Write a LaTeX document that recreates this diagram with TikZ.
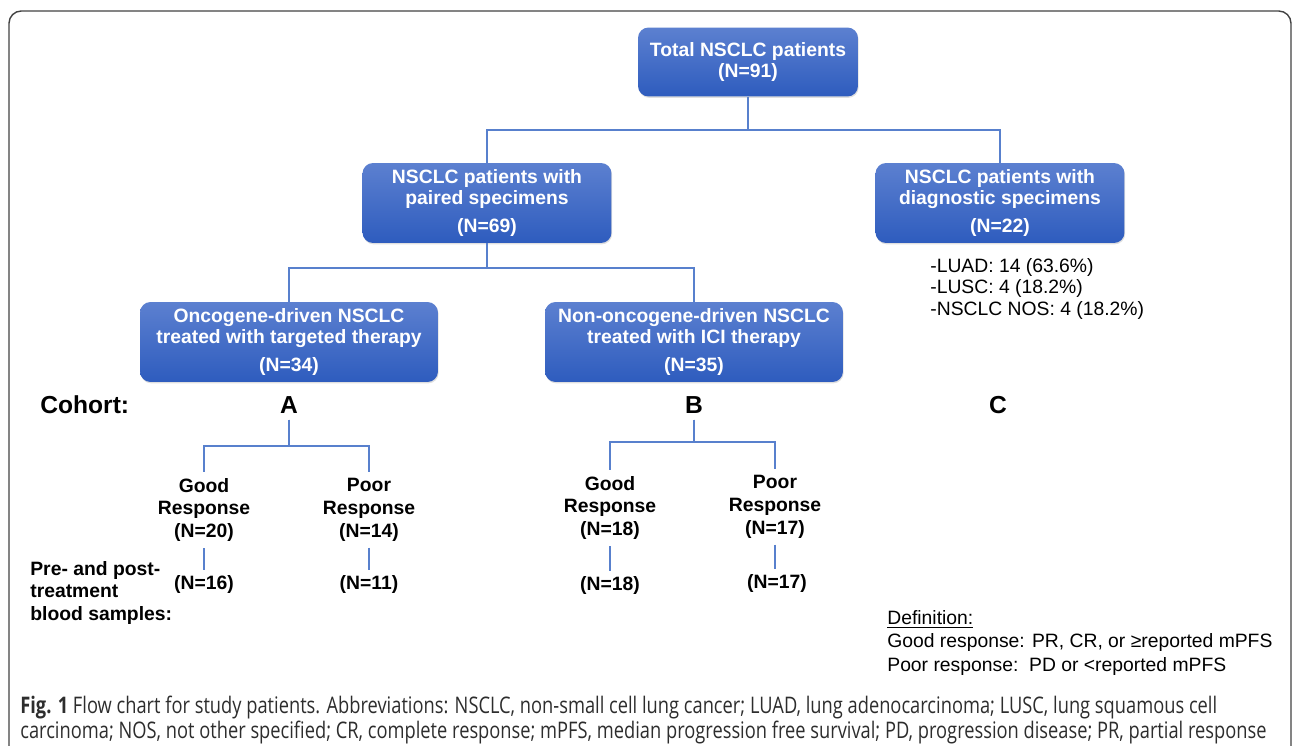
\documentclass[tikz,border=0pt]{standalone}
\usepackage{fontspec}
\setmainfont{Liberation Sans}
\newfontfamily\capfont[FakeStretch=0.8]{Open Sans}
\usetikzlibrary{shadows}
\definecolor{boxtop}{RGB}{92,128,208}
\definecolor{boxbot}{RGB}{46,92,190}
\definecolor{lnblue}{RGB}{88,128,205}
\definecolor{capgray}{RGB}{45,45,45}
\begin{document}
\begin{tikzpicture}[x=0.02cm,y=-0.02cm,
  box/.style={rounded corners=6pt, top color=boxtop, bottom color=boxbot, text=white,
    font=\fontsize{11}{12}\selectfont\bfseries, align=center, inner sep=0pt,
    drop shadow={opacity=0.25, shadow xshift=0.4pt, shadow yshift=-0.8pt}},
  conn/.style={lnblue, line width=0.6pt},
  resp/.style={font=\fontsize{11}{13}\selectfont\bfseries, align=center},
  txt/.style={font=\fontsize{11}{13}\selectfont, align=left, inner sep=0pt, anchor=west},
  big/.style={font=\fontsize{14}{16}\selectfont\bfseries}]
\useasboundingbox (0,0) rectangle (1292,746);
\draw[capgray!90, line width=0.8pt, rounded corners=7pt] (9,746) -- (9,11) -- (1291,11) -- (1291,746);

\node[box, minimum width=4.4cm, minimum height=1.38cm] (tot) at (748,62) {Total NSCLC patients\\(N=91)};
\node[box, minimum width=4.98cm, minimum height=1.6cm] (pair) at (487,203) {NSCLC patients with\\paired specimens\\[4pt](N=69)};
\node[box, minimum width=4.98cm, minimum height=1.6cm] (diag) at (1000,203) {NSCLC patients with\\diagnostic specimens\\[4pt](N=22)};
\node[box, minimum width=5.96cm, minimum height=1.6cm] (onco) at (289,342) {Oncogene-driven NSCLC\\treated with targeted therapy\\[4pt](N=34)};
\node[box, minimum width=5.96cm, minimum height=1.6cm] (nonc) at (694,342) {Non-oncogene-driven NSCLC\\treated with ICI therapy\\[4pt](N=35)};

\draw[conn] (tot.south) |- (487,130) -- (pair.north);
\draw[conn] (tot.south) |- (1000,130) -- (diag.north);
\draw[conn] (pair.south) |- (289,268) -- (onco.north);
\draw[conn] (pair.south) |- (694,268) -- (nonc.north);

\node[txt, font=\fontsize{11}{12.3}\selectfont] (hist) at (930,289) {-LUAD: 14 (63.6\%)\\-LUSC: 4 (18.2\%)\\-NSCLC NOS: 4 (18.2\%)};

\node[big, anchor=west, inner sep=0pt] (coh) at (40,405) {Cohort:};
\node[big] (cA) at (289,405) {A};
\node[big] (cB) at (694,405) {B};
\node[big] (cC) at (998,405) {C};

\node[resp] (gA) at (204,510) {Good\\Response\\(N=20)};
\node[resp] (pA) at (369,510) {Poor\\Response\\(N=14)};
\node[resp] (gB) at (610,508) {Good\\Response\\(N=18)};
\node[resp] (pB) at (775,507) {Poor\\Response\\(N=17)};

\draw[conn] (cA.south) |- (204,446) -- (gA.north);
\draw[conn] (cA.south) |- (369,446) -- (pA.north);
\draw[conn] (cB.south) |- (610,442) -- (gB.north);
\draw[conn] (cB.south) |- (775,442) -- (pB.north);

\node[resp] (gA2) at (204,585) {(N=16)};
\node[resp] (pA2) at (369,585) {(N=11)};
\node[resp] (gB2) at (610,586) {(N=18)};
\node[resp] (pB2) at (777,584) {(N=17)};
\draw[conn] (gA.south) -- (gA.south |- gA2.north);
\draw[conn] (pA.south) -- (pA.south |- pA2.north);
\draw[conn] (gB.south) -- (gB.south |- gB2.north);
\draw[conn] (pB.south) -- (pB.south |- pB2.north);

\node[txt, font=\fontsize{11}{13}\selectfont\bfseries] (blood) at (30,593) {Pre- and post-\\treatment\\blood samples:};

\node[txt, font=\fontsize{11}{13.3}\selectfont] (defn) at (887,643) {\underline{Definition:}\\Good response: PR, CR, or ≥reported mPFS\\Poor response:\ \ PD or <reported mPFS};

\node[txt, font=\capfont\fontsize{13}{14.3}\selectfont, text=capgray] (cap) at (20,720) {{\bfseries Fig. 1} Flow chart for study patients. Abbreviations: NSCLC, non-small cell lung cancer; LUAD, lung adenocarcinoma; LUSC, lung squamous cell\\carcinoma; NOS, not other specified; CR, complete response; mPFS, median progression free survival; PD, progression disease; PR, partial response};
\end{tikzpicture}
\end{document}
